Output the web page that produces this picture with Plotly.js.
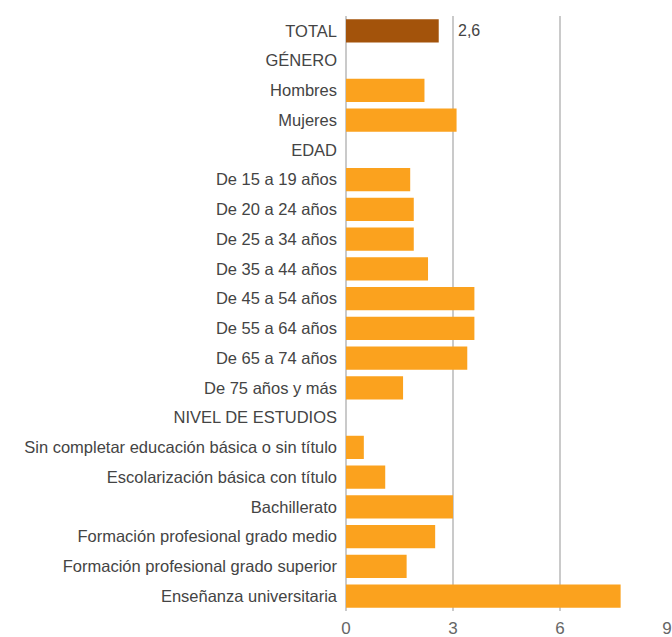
<!DOCTYPE html>
<html>
<head>
<meta charset="utf-8">
<script src="https://cdn.plot.ly/plotly-3.0.1.min.js"></script>
<style>html,body{margin:0;padding:0;background:#fff;}#chart{width:672px;height:637px;}</style>
</head>
<body>
<div id="chart"></div>
<script>
const categories = [
  "TOTAL", "GÉNERO", "Hombres", "Mujeres", "EDAD",
  "De 15 a 19 años", "De 20 a 24 años", "De 25 a 34 años", "De 35 a 44 años",
  "De 45 a 54 años", "De 55 a 64 años", "De 65 a 74 años", "De 75 años y más",
  "NIVEL DE ESTUDIOS",
  "Sin completar educación básica o sin título",
  "Escolarización básica con título",
  "Bachillerato",
  "Formación profesional grado medio",
  "Formación profesional grado superior",
  "Enseñanza universitaria"
];
const values = [
  2.6, null, 2.2, 3.1, null,
  1.8, 1.9, 1.9, 2.3,
  3.6, 3.6, 3.4, 1.6,
  null,
  0.5, 1.1, 3.0, 2.5, 1.7, 7.7
];
const tickVals = [0, 3, 6, 9];
const totalLabel = String(values[0]).replace('.', ',');

const colors = categories.map(c => c === "TOTAL" ? "#A3530B" : "#FBA21E");

const trace = {
  type: "bar",
  orientation: "h",
  y: categories,
  x: values,
  marker: { color: colors },
  hoverinfo: "none"
};

const layout = {
  width: 672, height: 637,
  margin: { l: 346, r: 5, t: 16, b: 26 },
  paper_bgcolor: "#fff", plot_bgcolor: "#fff",
  bargap: 0.22,
  showlegend: false,
  font: { family: "Liberation Sans, Arial, sans-serif", color: "#444" },
  xaxis: {
    range: [0, 9],
    tickvals: tickVals,
    ticktext: tickVals.map(String),
    showgrid: true, gridcolor: "#cacaca", gridwidth: 2,
    zeroline: true, zerolinecolor: "#cacaca", zerolinewidth: 2,
    showline: false, ticks: "",
    ticklabelstandoff: 5,
    tickfont: { size: 17, color: "#666" },
    fixedrange: true
  },
  yaxis: {
    type: "category",
    categoryorder: "array",
    categoryarray: categories,
    autorange: "reversed",
    showgrid: false, zeroline: false, showline: false, ticks: "",
    ticklabelstandoff: 8,
    tickfont: { size: 16.5, color: "#444" },
    fixedrange: true
  },
  annotations: [{
    x: 3, y: "TOTAL", xref: "x", yref: "y",
    text: totalLabel, showarrow: false,
    xanchor: "left", xshift: 3,
    font: { size: 16, color: "#444" }
  }]
};

Plotly.newPlot("chart", [trace], layout, { displayModeBar: false, staticPlot: true });
</script>
</body>
</html>
